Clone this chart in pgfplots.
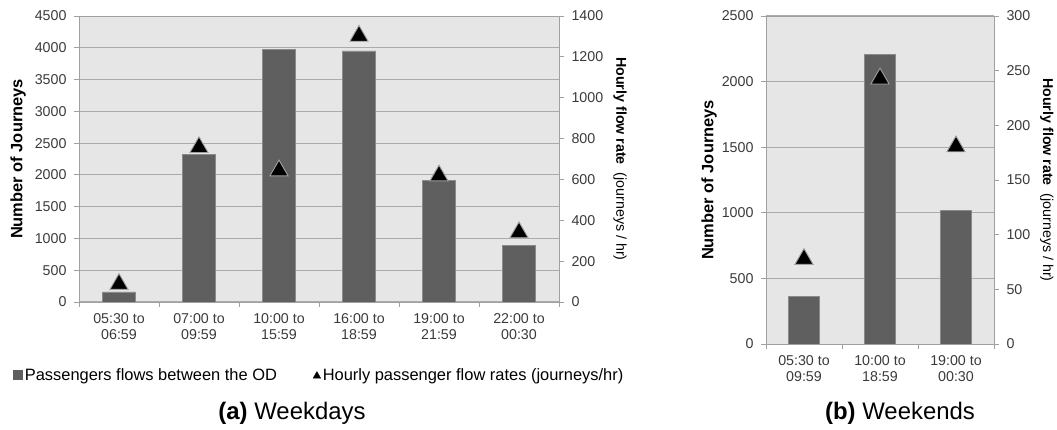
\documentclass[border=0pt]{standalone}
\usepackage{fontspec}
\setmainfont{Liberation Sans}
\usepackage{pgfplots}
\pgfplotsset{compat=1.18}
\definecolor{bargray}{HTML}{5F5F5F}
\definecolor{bgray}{HTML}{E6E6E6}
\definecolor{gridgray}{HTML}{ABABAB}
\definecolor{axgray}{HTML}{A0A0A0}
\definecolor{baredge}{HTML}{8A8A8A}
\definecolor{ticktext}{HTML}{3A3A3A}
\pgfplotsset{
  base/.style={
    scale only axis,
    font=\fontsize{14.3}{16.5}\selectfont,
    /pgf/number format/assume math mode=true,
    /pgf/number format/1000 sep={},
    axis line style={axgray, line width=0.8bp},
    tick style={axgray, line width=0.8bp},
    tick align=outside,
    major tick length=5bp,
    minor tick length=5bp,
    ticklabel style={text=ticktext},
  },
  lower/.style={
    base,
    axis background/.style={fill=bgray},
    ymajorgrids,
    grid style={gridgray, line width=1bp},
    ytick pos=left,
    xtick pos=bottom,
    major x tick style={draw=none},
    xticklabel style={align=center, yshift=-3bp},
    yticklabel style={xshift=-4bp},
    label style={font=\fontsize{16.5}{18}\selectfont},
  },
  upper/.style={
    base,
    axis x line=none,
    axis y line*=right,
    yticklabel style={xshift=4bp},
    label style={font=\fontsize{14.3}{17}\selectfont},
  },
  barstyle/.style={ybar, fill=bargray, draw=baredge, line width=0.6bp},
  tristyle/.style={only marks, mark=triangle*, mark size=10.5bp,
    mark options={fill=black, draw=axgray, line width=0.9bp, yshift=-2.6bp}},
}
\begin{document}
\begin{tikzpicture}
\useasboundingbox (0,0) rectangle (1057bp,430bp);
% ---------------- Weekdays ----------------
\begin{axis}[lower, at={(79bp,128bp)}, anchor=south west,
  width=480bp, height=286bp,
  xmin=-0.5, xmax=5.5, ymin=0, ymax=4500,
  ytick={0,500,...,4500},
  xtick={0,...,5},
  xticklabels={{05:30 to\\06:59},{07:00 to\\09:59},{10:00 to\\15:59},{16:00 to\\18:59},{19:00 to\\21:59},{22:00 to\\00:30}},
  minor xtick={-0.5,0.5,...,5.5},
  ylabel={\textbf{Number of Journeys}},
  ylabel style={at={(axis description cs:-0.127,0.5)}, anchor=center},
]
\addplot[barstyle, bar width=33bp] coordinates {(0,160) (1,2320) (2,3970) (3,3950) (4,1910) (5,890)};
\end{axis}
\begin{axis}[upper, at={(79bp,128bp)}, anchor=south west,
  width=480bp, height=286bp,
  xmin=-0.5, xmax=5.5, ymin=0, ymax=1400,
  ytick={0,200,...,1400},
  ylabel={\textbf{Hourly flow rate}\ \ (journeys / hr)},
  ylabel style={rotate=180, at={(axis description cs:1.127,0.5)}, anchor=center},
  legend style={at={(axis description cs:-0.137,-0.255)}, anchor=west,
    draw=none, fill=none, legend columns=2, inner sep=0pt,
    font=\fontsize{16.5}{18}\selectfont,
    /tikz/every even column/.append style={column sep=34bp}},
  legend cell align=left,
]
\addlegendimage{legend image code/.code={\fill[bargray] (0bp,-4.5bp) rectangle (9bp,4.5bp);}}
\addlegendentry{Passengers flows between the OD}
\addplot[tristyle, legend image code/.code={\draw[draw=none, mark=triangle*, mark size=4.5bp, mark options={fill=black, draw=black, line width=0.2bp}] plot coordinates {(4bp,-1bp)};}]
  coordinates {(0,100) (1,770) (2,656) (3,1315) (4,631) (5,353)};
\addlegendentry{Hourly passenger flow rates (journeys/hr)}
\end{axis}
% ---------------- Weekends ----------------
\begin{axis}[lower, at={(766bp,86bp)}, anchor=south west,
  width=228bp, height=328bp,
  xmin=-0.5, xmax=2.5, ymin=0, ymax=2500,
  ytick={0,500,...,2500},
  xtick={0,1,2},
  xticklabels={{05:30 to\\09:59},{10:00 to\\18:59},{19:00 to\\00:30}},
  minor xtick={-0.5,0.5,...,2.5},
  ylabel={\textbf{Number of Journeys}},
  ylabel style={at={(axis description cs:-0.25,0.5)}, anchor=center},
]
\addplot[barstyle, bar width=31bp] coordinates {(0,363) (1,2208) (2,1018)};
\end{axis}
\begin{axis}[upper, at={(766bp,86bp)}, anchor=south west,
  width=228bp, height=328bp,
  xmin=-0.5, xmax=2.5, ymin=0, ymax=300,
  ytick={0,50,...,300},
  ylabel={\textbf{Hourly flow rate}\ \ (journeys / hr)},
  ylabel style={rotate=180, at={(axis description cs:1.232,0.5)}, anchor=center},
]
\addplot[tristyle] coordinates {(0,80) (1,245) (2,183)};
\end{axis}
% ---------------- Captions ----------------
\node[font=\fontsize{24}{28}\selectfont] at (292bp,17bp) {\textbf{(a)} Weekdays};
\node[font=\fontsize{24}{28}\selectfont] at (900bp,17bp) {\textbf{(b)} Weekends};
\end{tikzpicture}
\end{document}
